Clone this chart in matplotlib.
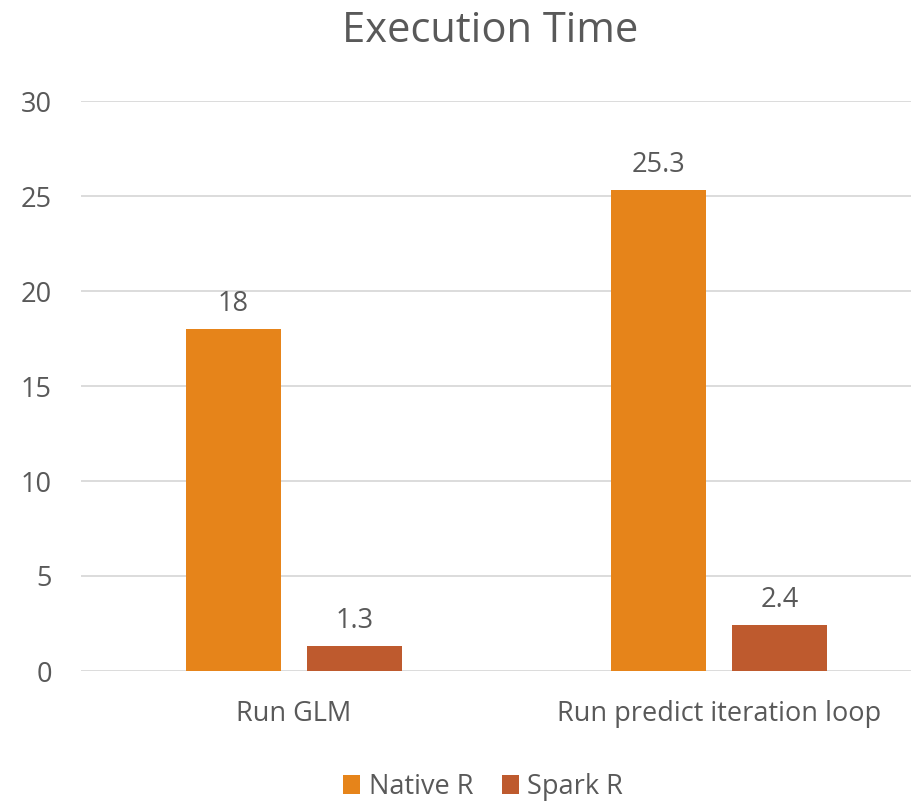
import matplotlib
matplotlib.use("Agg")
import matplotlib.pyplot as plt
import numpy as np
from matplotlib.patches import Patch

categories = ["Run GLM", "Run predict iteration loop"]
series_names = ["Native R", "Spark R"]
native_r = [18, 25.3]
spark_r = [1.3, 2.4]
colors = ["#E6841A", "#BE5A2E"]
yticks = [0, 5, 10, 15, 20, 25, 30]

text_color = "#595959"
plt.rcParams['font.family'] = ['Open Sans', 'DejaVu Sans']

fig = plt.figure(figsize=(9.12, 8.01), dpi=100)
W, H = 912, 801
left_px, right_px, top_px, bottom_px = 81, 912, 101, 671
ax = fig.add_axes([left_px / W, 1 - bottom_px / H, (right_px - left_px) / W, (bottom_px - top_px) / H])

# x mapping: category 0 at 294px, category 1 at 719px
ppu = 425.0
c0 = 294.0
ax.set_xlim((left_px - c0) / ppu, (right_px - c0) / ppu)
ax.set_ylim(0, 30)

x = np.arange(len(categories))
bw = 95 / ppu
off = 60.5 / ppu
for vals, o, col in [(native_r, -off, colors[0]), (spark_r, off, colors[1])]:
    bars = ax.bar(x + o, vals, width=bw, color=col, zorder=3)
    for b, v in zip(bars, vals):
        ax.annotate(f"{v:g}", (b.get_x() + b.get_width() / 2, v), xytext=(0, 8),
                    textcoords="offset points", ha="center", va="bottom",
                    fontsize=19.5, color=text_color)

ax.set_yticks(yticks)
ax.set_yticklabels([str(t) for t in yticks], fontsize=19.5, color=text_color)
ax.set_xticks(x)
ax.set_xticklabels(categories, fontsize=19.5, color=text_color)
ax.tick_params(axis='both', length=0)
ax.tick_params(axis='y', pad=21)
ax.tick_params(axis='x', pad=21)

ax.grid(axis='y', color="#D9D9D9", linewidth=1.3, zorder=0)
for s in ["top", "right", "left", "bottom"]:
    ax.spines[s].set_visible(False)

fig.text(490 / W, 1 - 31 / H, "Execution Time", ha="center", va="center",
         fontsize=30, color=text_color)

handles = [Patch(facecolor=c, edgecolor='none') for c in colors]
leg = fig.legend(handles, series_names, loc="center", bbox_to_anchor=(483 / W, 1 - 787 / H),
                 ncol=2, frameon=False, fontsize=19.5, handlelength=0.65, handleheight=0.65,
                 handletextpad=0.3, columnspacing=1.05)
for t in leg.get_texts():
    t.set_color(text_color)

fig.savefig("out.png", dpi=100)
